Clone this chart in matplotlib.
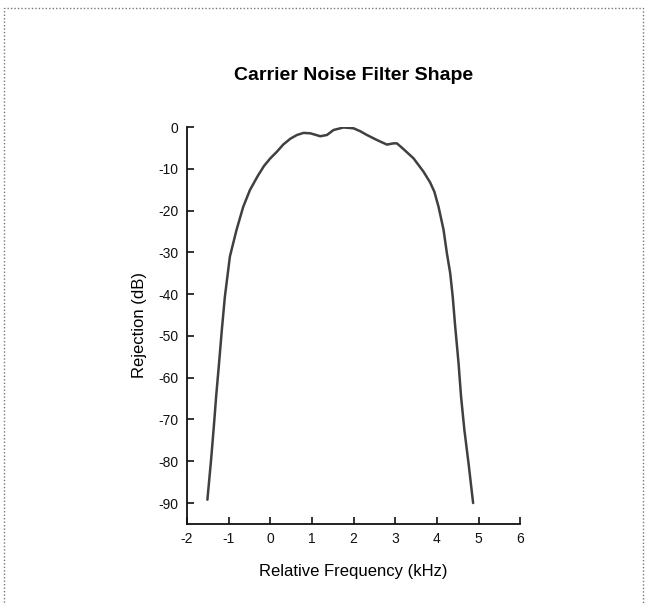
import matplotlib
matplotlib.use("Agg")
import matplotlib.pyplot as plt
from matplotlib.patches import Rectangle

plt.rcParams['font.family'] = ['Liberation Sans', 'DejaVu Sans']
plt.rcParams['axes.unicode_minus'] = False

title = "Carrier Noise Filter Shape"
x_label = "Relative Frequency (kHz)"
y_label = "Rejection (dB)"

freq_khz = [-1.51, -1.42, -1.35, -1.30, -1.23, -1.16, -1.09, -0.97, -0.81, -0.65,
            -0.49, -0.30, -0.15, 0.00, 0.15, 0.31, 0.48, 0.64, 0.80, 0.96,
            1.10, 1.20, 1.36, 1.52, 1.76, 2.00, 2.16, 2.32, 2.56, 2.80,
            2.96, 3.04, 3.20, 3.44, 3.68, 3.84, 3.94, 4.04, 4.16, 4.24,
            4.32, 4.38, 4.44, 4.52, 4.58, 4.66, 4.76, 4.87]
rejection_db = [-89.2, -79.5, -71.0, -64.5, -56.5, -48.2, -40.6, -31.0, -24.6, -19.1,
                -15.1, -11.7, -9.3, -7.5, -6.0, -4.2, -2.8, -1.9, -1.4, -1.5,
                -1.9, -2.2, -1.9, -0.7, -0.1, -0.3, -1.0, -1.9, -3.1, -4.2,
                -3.9, -3.9, -5.3, -7.5, -10.7, -13.3, -15.5, -19.1, -24.6, -30.2,
                -35.0, -40.6, -47.8, -56.5, -64.5, -72.5, -80.5, -90.0]

x_ticks = [-2, -1, 0, 1, 2, 3, 4, 5, 6]
y_ticks = [0, -10, -20, -30, -40, -50, -60, -70, -80, -90]

fig = plt.figure(figsize=(6.47, 6.05), dpi=100)
ax = fig.add_axes([0.289, 0.134, 0.515, 0.656])

ax.plot(freq_khz, rejection_db, color='#404040', linewidth=1.8, solid_capstyle='round',
        solid_joinstyle='round')

ax.set_xlim(-2, 6)
ax.set_ylim(-95, 0)
ax.set_xticks(x_ticks)
ax.set_xticklabels([str(v) for v in x_ticks])
ax.set_yticks(y_ticks)
ax.set_yticklabels([str(v) for v in y_ticks])

for s in ['top', 'right']:
    ax.spines[s].set_visible(False)
for s in ['left', 'bottom']:
    ax.spines[s].set_linewidth(1.3)
    ax.spines[s].set_color('#111111')

ax.tick_params(direction='in', length=5, width=1.2, labelsize=10, pad=6, colors='#111111')

ax.set_title(title, fontsize=14, fontweight='bold', pad=34)
ax.set_xlabel(x_label, fontsize=12, labelpad=13)
ax.set_ylabel(y_label, fontsize=12, labelpad=8)

# dotted frame of the scanned page
frame = Rectangle((0.006, -0.05), 0.988, 1.037, transform=fig.transFigure,
                  fill=False, edgecolor='#777777', linestyle=(0, (1, 1.5)), linewidth=1.0)
fig.patches.append(frame)

fig.savefig("out.png", dpi=100)
